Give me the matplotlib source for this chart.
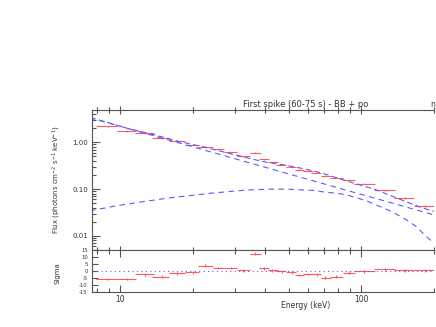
import matplotlib
matplotlib.use("Agg")
import matplotlib.pyplot as plt
from matplotlib.ticker import FixedLocator, FixedFormatter, NullFormatter

# data bins (keV) and measured flux
e_lo = [7.96, 9.75, 11.5, 13.6, 15.9, 18.6, 21.1, 24.2, 27.0, 30.7, 34.5, 37.6, 41.1,
        44.5, 49.0, 53.0, 57.3, 62.0, 67.9, 74.2, 83.7, 93.0, 113, 137, 166]
e_hi = [9.75, 11.7, 13.9, 15.9, 18.6, 21.3, 24.3, 27.0, 30.7, 34.5, 38.6, 41.5, 45.3,
        49.0, 53.8, 58.2, 63.0, 68.3, 75.0, 83.7, 94.0, 114, 138, 166, 200]
e_mid = [8.9, 10.7, 12.7, 14.9, 17.2, 20.1, 22.5, 25.5, 28.9, 32.4, 36.2, 39.4, 42.8,
         47.1, 51.5, 55.5, 60.2, 65.5, 71.0, 78.6, 88.8, 103, 125, 152, 183]
flux = [2.2, 1.74, 1.55, 1.23, 1.05, 0.89, 0.806, 0.71, 0.613, 0.504, 0.60, 0.434, 0.375,
        0.334, 0.30, 0.262, 0.245, 0.222, 0.192, 0.177, 0.154, 0.130, 0.095, 0.065, 0.044]
flux_err = [0.07, 0.05, 0.04, 0.03, 0.03, 0.02, 0.02, 0.02, 0.015, 0.012, 0.015, 0.01, 0.009,
            0.008, 0.007, 0.006, 0.006, 0.005, 0.005, 0.004, 0.004, 0.003, 0.003, 0.002, 0.002]
sigma = [-5.7, -5.7, -2.3, -4.0, -1.6, -0.85, 3.8, 2.1, 2.1, 0.6, 12.3, 1.8, 0.6,
         -0.1, -0.85, -2.8, -2.1, -2.3, -4.8, -4.0, -1.2, -0.1, 1.1, 0.6, 0.6]

# model curves
tot_e = [7.51, 9.09, 10.66, 12.49, 14.64, 17.16, 20.11, 21.43, 24.32, 27.64, 31.37, 35.61,
         40.46, 45.92, 52.12, 59.24, 67.24, 71.66, 83.93, 98.4, 115.3, 135.1, 158.4, 179.8, 201.1]
tot_f = [3.40, 2.57, 2.01, 1.66, 1.34, 1.08, 0.89, 0.834, 0.710, 0.601, 0.511, 0.434,
         0.375, 0.340, 0.303, 0.266, 0.228, 0.206, 0.158, 0.124, 0.0965, 0.070, 0.0504, 0.0394, 0.0334]
pl_e = [7.51, 61.1, 201.1]
pl_f = [3.35, 0.158, 0.028]
bb_e = [7.51, 8.67, 9.53, 10.82, 12.10, 13.53, 15.11, 17.16, 18.88, 21.43, 23.96, 26.76,
        29.63, 33.22, 41.75, 46.67, 51.0, 58.29, 63.6, 70.5, 78.8, 86.7, 96.8, 106.5,
        119.0, 128.5, 141.3, 153.5, 168.9, 177.1, 188.6, 201.1]
bb_f = [0.0350, 0.0394, 0.0436, 0.048, 0.0529, 0.0572, 0.0622, 0.0677, 0.0711, 0.0770, 0.082, 0.0862,
        0.0907, 0.0953, 0.100, 0.100, 0.0990, 0.0953, 0.094, 0.0862, 0.082, 0.0757, 0.0645, 0.0547,
        0.0428, 0.0363, 0.0284, 0.0222, 0.0160, 0.0125, 0.0091, 0.0069]

xticks = [10, 100]
xticklabels = ['10', '100']
yticks = [0.01, 0.1, 1.0]
yticklabels = ['0.01', '0.10', '1.00']
sticks = [-15, -10, -5, 0, 5, 10, 15]

red = '#ff5a5a'
blue = '#5a5aff'
grey = '#555555'
fs = 5.5

xerr_lo = [m - l for m, l in zip(e_mid, e_lo)]
xerr_hi = [h - m for m, h in zip(e_mid, e_hi)]

fig = plt.figure(figsize=(4.36, 3.27), dpi=100)
ax = fig.add_axes([0.211, 0.2355, 0.784, 0.428])
ax2 = fig.add_axes([0.211, 0.107, 0.784, 0.1285])

ax.errorbar(e_mid, flux, xerr=[xerr_lo, xerr_hi], yerr=flux_err, fmt='none',
            ecolor=red, elinewidth=0.8)
ax.plot(tot_e, tot_f, color=blue, lw=0.8, ls=(0, (5, 3)))
ax.plot(pl_e, pl_f, color=blue, lw=0.8, ls=(0, (5, 4)))
ax.plot(bb_e, bb_f, color=blue, lw=0.8, ls=(0, (5, 4)))
ax.set_xscale('log')
ax.set_yscale('log')
ax.set_xlim(7.66, 200)
ax.set_ylim(0.005, 4.9)

ax2.errorbar(e_mid, sigma, xerr=[xerr_lo, xerr_hi], yerr=1, fmt='none',
             ecolor=red, elinewidth=0.8)
ax2.axhline(0, color=blue, lw=0.8, ls=(0, (1, 3)))
ax2.set_xscale('log')
ax2.set_xlim(7.66, 200)
ax2.set_ylim(-15, 15)

xminor = [8, 9, 20, 30, 40, 50, 60, 70, 80, 90, 200]
for a in (ax, ax2):
    a.spines['right'].set_visible(False)
    for s in ('left', 'top', 'bottom'):
        a.spines[s].set_color(grey)
        a.spines[s].set_linewidth(0.8)
    a.xaxis.set_major_locator(FixedLocator(xticks))
    a.xaxis.set_major_formatter(FixedFormatter(xticklabels))
    a.xaxis.set_minor_locator(FixedLocator(xminor))
    a.xaxis.set_minor_formatter(NullFormatter())
    a.tick_params(which='both', color=grey, width=0.8, labelsize=fs, labelcolor='#333333')

ax.tick_params(axis='x', which='both', direction='inout', top=True, bottom=True, labelbottom=False)
ax.tick_params(axis='x', which='major', length=6)
ax.tick_params(axis='x', which='minor', length=4)
ax.tick_params(axis='y', which='both', direction='in', right=False)
ax.tick_params(axis='y', which='major', length=6, pad=3, labelsize=fs - 0.5)
ax.tick_params(axis='y', which='minor', length=3)
ax.yaxis.set_major_locator(FixedLocator(yticks))
ax.yaxis.set_major_formatter(FixedFormatter(yticklabels))
ax.yaxis.set_minor_locator(FixedLocator([m * d for d in (0.001, 0.01, 0.1, 1.0) for m in range(2, 10)]))
ax.yaxis.set_minor_formatter(NullFormatter())

ax2.tick_params(axis='x', which='both', direction='in', top=True, bottom=True)
ax2.tick_params(axis='x', which='major', length=5, pad=2)
ax2.tick_params(axis='x', which='minor', length=3)
ax2.yaxis.set_major_locator(FixedLocator(sticks))
ax2.yaxis.set_major_formatter(FixedFormatter([str(s) for s in sticks]))
ax2.tick_params(axis='y', which='major', direction='in', length=4, pad=3, labelsize=3.8)

fig.text(0.700, 0.680, 'First spike (60-75 s) - BB + po', fontsize=fs + 0.5,
         color='#333333', ha='center', va='center')
fig.text(0.993, 0.680, 'n', fontsize=fs, color='#333333', ha='center', va='center')
fig.text(0.700, 0.067, 'Energy (keV)', fontsize=fs, color='#333333', ha='center', va='center')
fig.text(0.131, 0.449, 'Flux (photons cm$^{-2}$ s$^{-1}$ keV$^{-1}$)', fontsize=fs - 0.5,
         color='#333333', ha='center', va='center', rotation=90)
fig.text(0.131, 0.165, 'Sigma', fontsize=fs - 0.5, color='#333333', ha='center', va='center',
         rotation=90)

fig.savefig('out.png', dpi=100)
